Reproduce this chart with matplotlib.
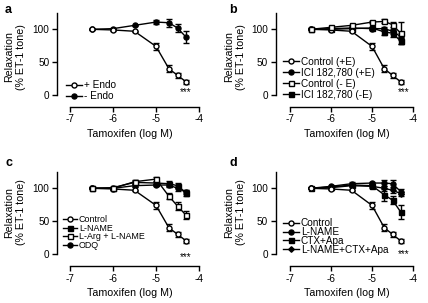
import matplotlib
matplotlib.use("Agg")
import matplotlib.pyplot as plt

plt.rcParams['font.family'] = ['Liberation Sans', 'DejaVu Sans']
plt.rcParams['font.size'] = 7.2

# tamoxifen concentrations (log M)
conc = [-6.5, -6, -5.5, -5, -4.7, -4.5, -4.3]

# control with endothelium (same curve in every panel)
ctrl = [100, 99, 97, 74, 40, 30, 20]
ctrl_err = [0, 1, 1, 5, 5, 4, 3]

# panel a
no_endo = [100, 101, 106, 111, 110, 102, 88]
no_endo_err = [1, 1, 1, 3, 6, 6, 9]

# panel b
ici_pe = [100, 101, 102, 101, 101, 97, 89]
ici_pe_err = [0, 1, 1, 2, 3, 4, 5]
ctrl_me = [100, 103, 106, 111, 112, 107, 94]
ctrl_me_err = [0, 1, 1, 2, 3, 4, 17]
ici_me = [100, 100, 101, 102, 96, 94, 82]
ici_me_err = [0, 1, 1, 2, 4, 5, 5]

# panel c
c_lname = [100, 101, 109, 108, 107, 104, 93]
c_lname_err = [0, 1, 2, 2, 4, 4, 4]
c_larg = [100, 100, 110, 114, 88, 73, 59]
c_larg_err = [0, 1, 2, 3, 5, 6, 6]
c_odq = [100, 100, 104, 105, 105, 100, 94]
c_odq_err = [0, 1, 2, 2, 3, 4, 3]

# panel d
d_lname = [100, 103, 107, 108, 108, 107, 95]
d_lname_err = [0, 1, 2, 2, 5, 5, 4]
d_ctx = [100, 102, 105, 104, 90, 82, 64]
d_ctx_err = [0, 1, 2, 2, 9, 6, 10]
d_all = [100, 101, 104, 103, 100, 97, 92]
d_all_err = [0, 1, 2, 2, 4, 4, 3]

W, H = 428, 303
fig = plt.figure(figsize=(W / 100, H / 100), dpi=100)


def make_ax(px7, px4, py0, py100, xl, yl):
    sx = (px4 - px7) / 3
    sy = (py0 - py100) / 100
    left = px7 + (xl[0] + 7) * sx
    right = px7 + (xl[1] + 7) * sx
    top = py0 - yl[1] * sy
    bottom = py0 - yl[0] * sy
    ax = fig.add_axes([left / W, 1 - bottom / H, (right - left) / W, (bottom - top) / H])
    ax.set_xlim(xl)
    ax.set_ylim(yl)
    ax.spines['top'].set_visible(False)
    ax.spines['right'].set_visible(False)
    ax.spines['left'].set_bounds(0, 125)
    ax.spines['bottom'].set_bounds(-7, -4)
    for s in ('left', 'bottom'):
        ax.spines[s].set_linewidth(1.0)
    ax.set_xticks([-7, -6, -5, -4])
    ax.set_xticklabels(['-7', '-6', '-5', '-4'])
    ax.set_yticks([0, 50, 100])
    ax.tick_params(direction='out', length=3.5, width=1.0, pad=2)
    ax.set_xlabel('Tamoxifen (log M)', fontsize=7.7, labelpad=3)
    return ax


def series(ax, y, err, marker, face, label, ms=3.6, z=3):
    c = ax.errorbar(conc, y, yerr=err, color='black', marker=marker, mfc=face,
                    mec='black', ms=ms, lw=1.0, elinewidth=1.0, capsize=2.2,
                    capthick=1.0, zorder=z)
    c[0].set_label(label)
    return c[0]


def ylab(xc, yc):
    fig.text(xc / W, 1 - yc / H, 'Relaxation\n(% ET-1 tone)', rotation=90,
             ha='center', va='center', fontsize=7.7, multialignment='center')


def legend(ax, handles, x, y, spacing, fs=7.2):
    ax.legend(handles=handles, loc='lower left', bbox_to_anchor=(x, y), frameon=False,
              handlelength=1.6, handletextpad=0.2, labelspacing=spacing,
              borderpad=0, borderaxespad=0, fontsize=fs)


# a
ax = make_ax(70, 199, 95, 29.3, (-7.3, -3.9), (-18, 125))
h = [series(ax, ctrl, ctrl_err, 'o', 'white', '+ Endo', z=4),
     series(ax, no_endo, no_endo_err, 'o', 'black', '- Endo')]
legend(ax, h, 0.06, 0.06, 0.1)
ax.text(-4.3, 4, '***', ha='center', va='center', fontsize=7)
ylab(15, 57)
fig.text(5 / W, 1 - 10 / H, 'a', fontweight='bold', fontsize=9, va='center')

# b
ax = make_ax(290, 413, 95, 29.3, (-7.35, -3.9), (-18, 125))
h = [series(ax, ctrl, ctrl_err, 'o', 'white', 'Control (+E)', z=4),
     series(ax, ici_pe, ici_pe_err, 'o', 'black', 'ICI 182,780 (+E)'),
     series(ax, ctrl_me, ctrl_me_err, 's', 'white', 'Control (- E)', z=4),
     series(ax, ici_me, ici_me_err, 's', 'black', 'ICI 182,780 (-E)')]
legend(ax, h, 0.055, 0.075, 0.1)
ax.text(-4.22, 4, '***', ha='center', va='center', fontsize=7)
ylab(235, 57)
fig.text(229 / W, 1 - 10 / H, 'b', fontweight='bold', fontsize=9, va='center')

# c
ax = make_ax(70, 199, 254, 188.3, (-7.3, -3.9), (-18.3, 125))
h = [series(ax, ctrl, ctrl_err, 'o', 'white', 'Control', z=4),
     series(ax, c_lname, c_lname_err, 's', 'black', 'L-NAME'),
     series(ax, c_larg, c_larg_err, 's', 'white', 'L-Arg + L-NAME', z=4),
     series(ax, c_odq, c_odq_err, 'o', 'black', 'ODQ')]
legend(ax, h, 0.04, 0.17, -0.05, fs=6.4)
ax.text(-4.3, -4, '***', ha='center', va='center', fontsize=7)
ylab(15, 212)
fig.text(5 / W, 1 - 163 / H, 'c', fontweight='bold', fontsize=9, va='center')

# d
ax = make_ax(290, 413, 254, 188.3, (-7.35, -3.9), (-18.3, 125))
h = [series(ax, ctrl, ctrl_err, 'o', 'white', 'Control', z=4),
     series(ax, d_lname, d_lname_err, 'o', 'black', 'L-NAME'),
     series(ax, d_ctx, d_ctx_err, 's', 'black', 'CTX+Apa'),
     series(ax, d_all, d_all_err, 'D', 'black', 'L-NAME+CTX+Apa', ms=2.8)]
legend(ax, h, 0.05, 0.12, -0.12)
ax.text(-4.22, -0.5, '***', ha='center', va='center', fontsize=7)
ylab(235, 212)
fig.text(229 / W, 1 - 163 / H, 'd', fontweight='bold', fontsize=9, va='center')

fig.savefig('out.png', dpi=100)
